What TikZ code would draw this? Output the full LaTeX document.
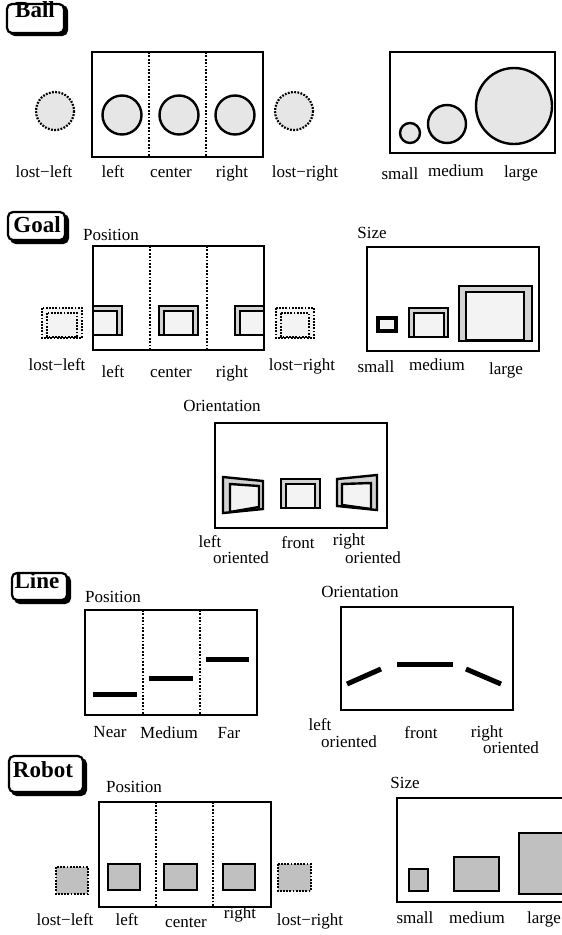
\documentclass[tikz,border=0pt]{standalone}
\usepackage{fontspec}
\setmainfont{Liberation Serif}
\usepackage{xcolor}
\definecolor{ballgray}  {HTML}{E6E6E6}
\definecolor{goalband}  {HTML}{D2D2D2}
\definecolor{goalinner} {HTML}{F3F3F3}
\definecolor{robotgray} {HTML}{C0C0C0}

\begin{document}
\begin{tikzpicture}[
  x=1pt, y=-1pt,
  every node/.style={font=\fontsize{17}{19}\selectfont, inner sep=0pt},
  lbl/.style={anchor=base},
  ttl/.style={anchor=base, font=\fontsize{23}{25}\selectfont\bfseries},
  tbox/.style={draw, line width=2.2pt, rounded corners=5pt, fill=white},
  tshadow/.style={draw, line width=2.2pt, rounded corners=5pt, fill=black},
  frame/.style={draw, line width=2.2pt},
  divider/.style={line width=2pt, dash pattern=on 1.8pt off 1.6pt},
  solid obj/.style={draw, line width=2.4pt},
  lost obj/.style={draw, line width=2.2pt, dash pattern=on 1.8pt off 1.4pt},
  bar/.style={line width=5pt},
]
\clip (0,0) rectangle (562,935);

% -- Ball --------------------------------------
\draw[tshadow] (10,6) rectangle (67,35);
\draw[tbox]    (7,4)  rectangle (64,33);
\node[ttl] (balltitle) at (35,17) {Ball};

\draw[frame] (92,52) rectangle (263,157);
\draw[divider] (149,52) -- (149,157);
\draw[divider] (206,52) -- (206,157);
\draw[lost obj, fill=ballgray]  (55,111)  circle[radius=19];
\draw[solid obj, fill=ballgray] (122,115) circle[radius=19.5];
\draw[solid obj, fill=ballgray] (179,115) circle[radius=19.5];
\draw[solid obj, fill=ballgray] (235,115) circle[radius=19.5];
\draw[lost obj, fill=ballgray]  (294,111) circle[radius=19];

\node[lbl] (ballll) at (44,177)  {lost−left};
\node[lbl] (balll)  at (113,177) {left};
\node[lbl] (ballc)  at (171,177) {center};
\node[lbl] (ballr)  at (232,177) {right};
\node[lbl] (balllr) at (305,177) {lost−right};

\draw[frame] (390,52) rectangle (555,153);
\draw[solid obj, fill=ballgray] (410,133) circle[radius=10];
\draw[solid obj, fill=ballgray] (447,124) circle[radius=19];
\draw[solid obj, fill=ballgray] (514,106) circle[radius=38];

\node[lbl] (balls)  at (400,179) {small};
\node[lbl] (ballm)  at (456,176) {medium};
\node[lbl] (balllg) at (521,177) {large};

% -- Goal: position ----------------------------
\draw[tshadow] (11,215) rectangle (68,243);
\draw[tbox]    (8,212)  rectangle (65,240);
\node[ttl] (goaltitle) at (37,232) {Goal};

\node[lbl] (goalpos) at (111,240) {Position};
\draw[frame] (93,246) rectangle (264,350);
\draw[divider] (150,246) -- (150,350);
\draw[divider] (207,246) -- (207,350);

\draw[lost obj, fill=goalinner] (42,308) rectangle (82,338);
\draw[lost obj]                 (47,313) rectangle (77,337);
\draw[solid obj, fill=goalband]  (93,306) rectangle (122,335);
\draw[solid obj, fill=goalinner] (93,311) rectangle (117,335);
\draw[solid obj, fill=goalband]  (159,306) rectangle (198,335);
\draw[solid obj, fill=goalinner] (164,311) rectangle (193,335);
\draw[solid obj, fill=goalband]  (235,306) rectangle (264,335);
\draw[solid obj, fill=goalinner] (240,311) rectangle (264,335);
\draw[lost obj, fill=goalinner] (276,308) rectangle (314,338);
\draw[lost obj]                 (281,313) rectangle (309,337);

\node[lbl] (goalll) at (57,370)  {lost−left};
\node[lbl] (goall)  at (113,377) {left};
\node[lbl] (goalc)  at (171,377) {center};
\node[lbl] (goalr)  at (232,377) {right};
\node[lbl] (goallr) at (302,370) {lost−right};

% -- Goal: size --------------------------------
\node[lbl] (goalsize) at (372,238) {Size};
\draw[frame] (367,247) rectangle (539,351);
\draw[solid obj, line width=3.4pt, fill=goalinner] (378,318) rectangle (396,331);
\draw[solid obj, fill=goalband]  (409,308) rectangle (448,337);
\draw[solid obj, fill=goalinner] (414,313) rectangle (444,337);
\draw[solid obj, fill=goalband]  (459,286) rectangle (532,341);
\draw[solid obj, fill=goalinner] (466,292) rectangle (524,340);

\node[lbl] (goals)  at (376,372) {small};
\node[lbl] (goalm)  at (437,370) {medium};
\node[lbl] (goallg) at (506,374) {large};

% -- Goal: orientation -------------------------
\node[lbl] (goalori) at (222,411) {Orientation};
\draw[frame] (215,423) rectangle (387,528);
\draw[solid obj, fill=goalband]
  (223,477) -- (263,481) -- (263,509) -- (223,513) -- cycle;
\draw[solid obj, fill=goalinner]
  (230,484) -- (259,486) -- (259,507) -- (230,512) -- cycle;
\draw[solid obj, fill=goalband]  (281,479) rectangle (320,508);
\draw[solid obj, fill=goalinner] (286,484) rectangle (315,508);
\draw[solid obj, fill=goalband]
  (337,479) -- (377,475) -- (377,510) -- (337,506) -- cycle;
\draw[solid obj, fill=goalinner]
  (342,484) -- (371,483) -- (371,509) -- (342,505) -- cycle;

\node[lbl] (goallo1) at (210,547) {left};
\node[lbl] (goallo2) at (241,563) {oriented};
\node[lbl] (goalf)   at (298,548) {front};
\node[lbl] (goalro1) at (349,545) {right};
\node[lbl] (goalro2) at (373,563) {oriented};

% -- Line: position ----------------------------
\draw[tshadow] (15,576) rectangle (70,603);
\draw[tbox]    (12,573) rectangle (67,600);
\node[ttl] (linetitle) at (37,588) {Line};

\node[lbl] (linepos) at (113,602) {Position};
\draw[frame] (85,610) rectangle (257,715);
\draw[divider] (143,610) -- (143,715);
\draw[divider] (200,610) -- (200,715);
\draw[bar] (93,694)  -- (137,694);
\draw[bar] (149,678) -- (193,678);
\draw[bar] (206,659) -- (249,659);

\node[lbl] (linen) at (110,737) {Near};
\node[lbl] (linem) at (169,738) {Medium};
\node[lbl] (linef) at (229,738) {Far};

% -- Line: orientation -------------------------
\node[lbl] (lineori) at (360,597) {Orientation};
\draw[frame] (341,607) rectangle (513,710);
\draw[bar] (347,684) -- (381,669);
\draw[bar] (397,664) -- (453,664);
\draw[bar] (466,669) -- (501,684);

\node[lbl] (linelo1) at (320,730) {left};
\node[lbl] (linelo2) at (349,747) {oriented};
\node[lbl] (linefr)  at (421,738) {front};
\node[lbl] (linero1) at (487,737) {right};
\node[lbl] (linero2) at (511,753) {oriented};

% -- Robot: position ---------------------------
\draw[tshadow] (12,759) rectangle (86,795);
\draw[tbox]    (9,756)  rectangle (83,792);
\node[ttl] (robottitle) at (43,777) {Robot};

\node[lbl] (robotpos) at (134,792) {Position};
\draw[frame] (99,802) rectangle (271,907);
\draw[divider] (156,802) -- (156,907);
\draw[divider] (213,802) -- (213,907);
\draw[lost obj, fill=robotgray]  (56,867)  rectangle (88,894);
\draw[solid obj, fill=robotgray] (108,864) rectangle (140,890);
\draw[solid obj, fill=robotgray] (164,864) rectangle (197,890);
\draw[solid obj, fill=robotgray] (223,864) rectangle (255,890);
\draw[lost obj, fill=robotgray]  (278,864) rectangle (311,891);

\node[lbl] (robotll) at (65,925)  {lost−left};
\node[lbl] (robotl)  at (127,925) {left};
\node[lbl] (robotc)  at (186,927) {center};
\node[lbl] (robotr)  at (240,918) {right};
\node[lbl] (robotlr) at (310,925) {lost−right};

% -- Robot: size -------------------------------
\node[lbl] (robotsize) at (405,788) {Size};
\draw[frame] (397,798) rectangle (575,902);
\draw[solid obj, fill=robotgray] (409,869) rectangle (428,891);
\draw[solid obj, fill=robotgray] (454,857) rectangle (499,891);
\draw[solid obj, fill=robotgray] (519,833) rectangle (575,894);

\node[lbl] (robots)  at (415,923) {small};
\node[lbl] (robotm)  at (477,923) {medium};
\node[lbl] (robotlg) at (544,923) {large};

\end{tikzpicture}
\end{document}
